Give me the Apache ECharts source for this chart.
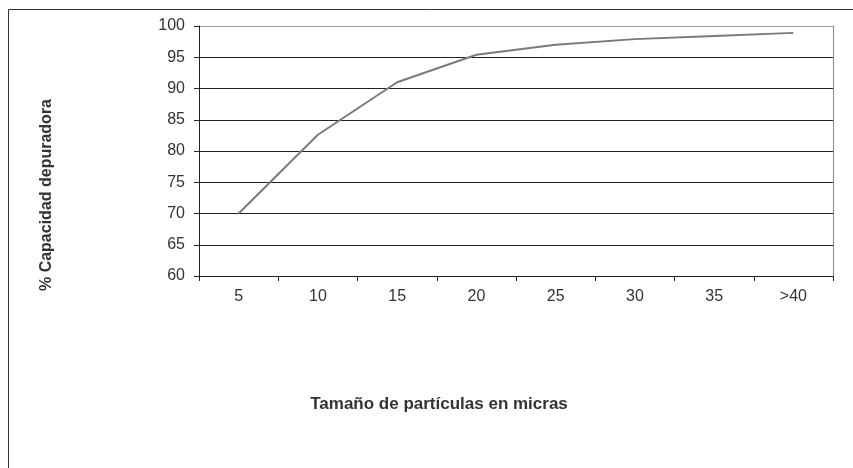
<!DOCTYPE html>
<html>
<head>
<meta charset="utf-8">
<script src="https://cdn.jsdelivr.net/npm/echarts@6/dist/echarts.min.js"></script>
<style>html,body{margin:0;padding:0;background:#fff}#c{width:853px;height:468px}</style>
</head>
<body>
<div id="c"></div>
<script>
const categories = ['5', '10', '15', '20', '25', '30', '35', '>40'];
const capacity = [70, 82.6, 91, 95.4, 97, 97.9, 98.4, 98.9];
const xTitle = 'Tamaño de partículas en micras';
const yTitle = '% Capacidad depuradora';

const chart = echarts.init(document.getElementById('c'), null, {renderer: 'canvas'});
const font = 'Liberation Sans, Arial, sans-serif';
chart.setOption({
  animation: false,
  backgroundColor: '#fff',
  grid: {left: 199, right: 20, top: 26, bottom: 192},
  xAxis: {
    type: 'category',
    data: categories,
    boundaryGap: true,
    axisLine: {lineStyle: {color: '#222', width: 1}},
    axisTick: {show: true, interval: 0, length: 5, lineStyle: {color: '#222'}},
    axisLabel: {interval: 0, margin: 13, color: '#333', fontSize: 16, fontFamily: font}
  },
  yAxis: [{
    type: 'value',
    min: 60, max: 100, interval: 5,
    axisLine: {show: true, lineStyle: {color: '#222', width: 1}},
    axisTick: {show: true, length: 5, lineStyle: {color: '#222'}},
    axisLabel: {margin: 14, color: '#333', fontSize: 16, fontFamily: font},
    splitLine: {show: true, lineStyle: {color: ['#222','#222','#222','#222','#222','#222','#222','#222','#999'], width: 1}}
  }, {
    type: 'value',
    position: 'right',
    min: 60, max: 100, interval: 5,
    axisLine: {show: true, lineStyle: {color: '#888', width: 1}},
    axisTick: {show: false},
    axisLabel: {show: false},
    splitLine: {show: false}
  }],
  series: [{
    type: 'line',
    data: capacity,
    showSymbol: false,
    symbol: 'none',
    lineStyle: {color: '#7a7a7a', width: 2}
  }],
  graphic: [
    {type: 'rect', shape: {x: 8.5, y: 9.5, width: 860, height: 470}, style: {fill: 'none', stroke: '#333', lineWidth: 1}, silent: true, z: -1},
    {type: 'text', x: 439, y: 404, style: {text: xTitle, font: 'bold 17px ' + font, fill: '#333', textAlign: 'center', textVerticalAlign: 'middle'}},
    {type: 'text', x: 47, y: 195, rotation: Math.PI / 2, style: {text: yTitle, font: 'bold 16px ' + font, fill: '#333', textAlign: 'center', textVerticalAlign: 'middle'}}
  ]
});
</script>
</body>
</html>
